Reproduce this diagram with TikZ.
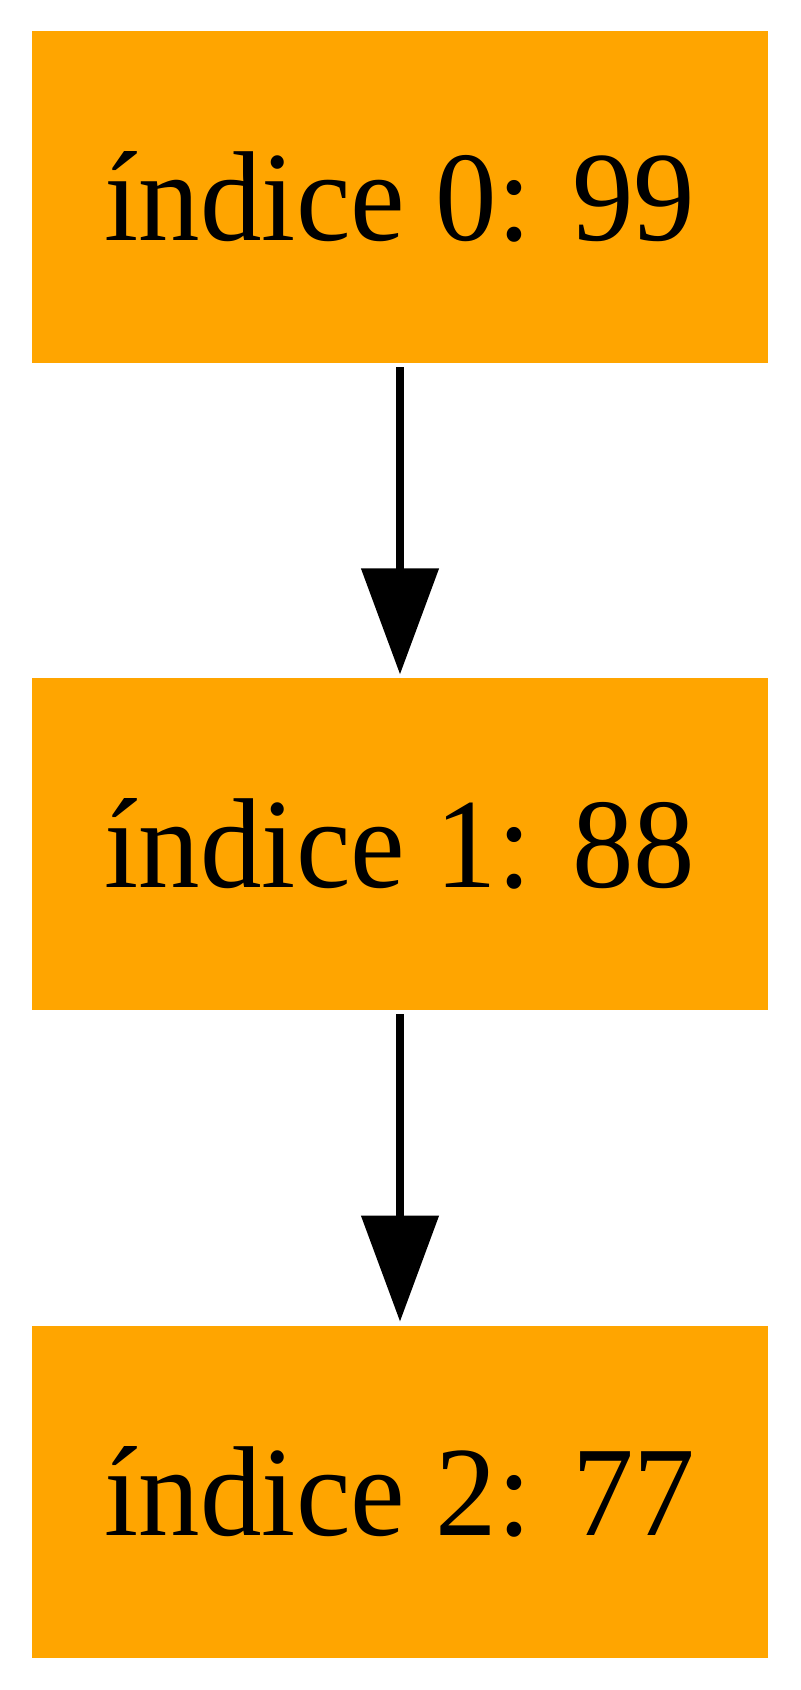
\documentclass[tikz,border=0pt]{standalone}
\usepackage{fontspec}
\setmainfont[FakeStretch=0.96]{Liberation Serif}
\usepackage{tikz}
\usetikzlibrary{arrows.meta}
\definecolor{gvorange}{HTML}{FFA500}
\tikzset{basic/.style={fill=gvorange,inner sep=0pt,
                       text badly centered,minimum width=92pt}}
\tikzset{entry/.style={basic,rectangle,minimum height=41.5pt}}

\begin{document}
\begin{tikzpicture}[>={Triangle[length=13.25pt,width=9.5pt]},line width=1pt,
    font=\fontsize{16pt}{19pt}\selectfont]
  % page size (800 x 1690 px, 8 px = 1pt)
  \useasboundingbox (0,0) rectangle (100pt,211.25pt);
  % The list entries are stacked in a one-column matrix:
  \matrix[row sep=39.4pt,inner sep=0pt] at (50pt,105.7pt) {
    \node (idx0) [entry] {índice 0: 99}; \\
    \node (idx1) [entry] {índice 1: 88}; \\
    \node (idx2) [entry] {índice 2: 77}; \\
  };

  % each entry points to the next one
  \path[->]
    (idx0) edge (idx1)
    (idx1) edge (idx2)
    ;
\end{tikzpicture}
\end{document}
